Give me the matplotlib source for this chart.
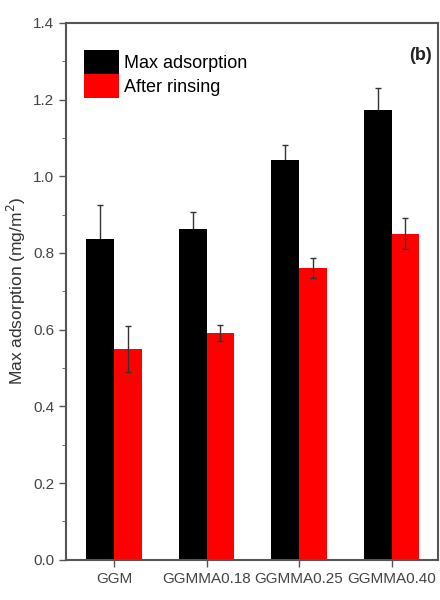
import matplotlib.pyplot as plt
import numpy as np

plt.rcParams['font.family'] = ['Liberation Sans', 'DejaVu Sans']

samples = ['GGM', 'GGMMA0.18', 'GGMMA0.25', 'GGMMA0.40']
max_ads = [0.837, 0.863, 1.043, 1.173]
max_err = [0.088, 0.045, 0.038, 0.057]
rinsed = [0.550, 0.592, 0.761, 0.850]
rinsed_err = [0.060, 0.021, 0.026, 0.040]

x = np.arange(len(samples))
w = 0.3
grey = '#444444'

fig = plt.figure(figsize=(4.4, 6), dpi=100)
ax = fig.add_axes([0.15, 0.067, 0.845, 0.895])

# error bars of the black series sit behind the bars, red ones in front
ax.errorbar(x - w/2, max_ads, yerr=max_err, fmt='none', ecolor='#333333',
            elinewidth=1, capsize=2, capthick=1, zorder=1)
ax.bar(x - w/2, max_ads, w, color='black', label='Max adsorption', zorder=2)
ax.bar(x + w/2, rinsed, w, color='#ff0000', label='After rinsing', zorder=2)
ax.errorbar(x + w/2, rinsed, yerr=rinsed_err, fmt='none', ecolor='#333333',
            elinewidth=1, capsize=2, capthick=1, zorder=3)

ax.set_xlim(-0.52, 3.5)
ax.set_ylim(0, 1.4)
ax.set_xticks(x)
ax.set_xticklabels(samples, fontsize=11, color=grey)
ax.set_yticks(np.arange(0, 1.41, 0.2))
ax.set_yticklabels([f'{v:.1f}' for v in np.arange(0, 1.41, 0.2)], fontsize=11, color=grey)
ax.set_yticks(np.arange(0.1, 1.4, 0.2), minor=True)
ax.tick_params(axis='both', direction='out', length=5, width=1, color='#555555')
ax.tick_params(axis='y', which='minor', length=3, color='#555555')
for s in ax.spines.values():
    s.set_color('#555555')
    s.set_linewidth(1.5)

ax.set_ylabel('Max adsorption (mg/m$^2$)', fontsize=12.5, color='#333333', labelpad=4)

ax.legend(loc='upper left', bbox_to_anchor=(0.02, 0.97), frameon=False, fontsize=13,
          handlelength=1.9, handleheight=1.7, handletextpad=0.3, labelspacing=0.0,
          borderaxespad=0.2)
ax.text(0.985, 0.94, '(b)', transform=ax.transAxes, ha='right', va='center',
        fontsize=13, fontweight='bold', color='#222222')

plt.savefig('out.png')
